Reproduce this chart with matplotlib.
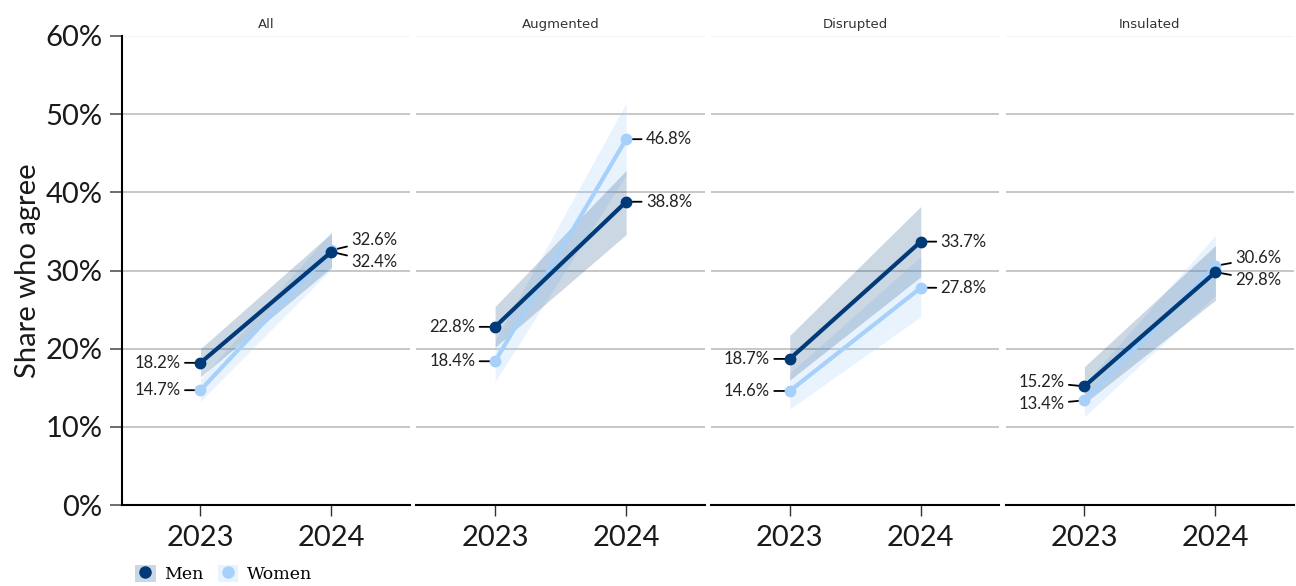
import numpy as np
import matplotlib
matplotlib.use("Agg")
import matplotlib.pyplot as plt
from matplotlib.patches import Patch
from matplotlib.lines import Line2D

# data (share who agree, %)
panels = ["All", "Augmented", "Disrupted", "Insulated"]
years = ["2023", "2024"]

men_2023 = [18.2, 22.8, 18.7, 15.2]
men_2024 = [32.4, 38.8, 33.7, 29.8]
women_2023 = [14.7, 18.4, 14.6, 13.4]
women_2024 = [32.6, 46.8, 27.8, 30.6]

# confidence bands
men_lo_2023 = [16.4, 20.2, 16.0, 13.0]
men_hi_2023 = [20.0, 25.4, 21.7, 17.7]
men_lo_2024 = [30.4, 34.6, 29.2, 26.2]
men_hi_2024 = [34.8, 42.8, 38.2, 33.2]
women_lo_2023 = [13.3, 15.8, 12.3, 11.3]
women_hi_2023 = [16.1, 21.0, 16.9, 15.5]
women_lo_2024 = [30.2, 42.2, 24.1, 26.8]
women_hi_2024 = [35.0, 51.4, 31.8, 34.5]

MEN = "#003a78"
WOMEN = "#a7d0fb"
SANS = ["Lato", "DejaVu Sans"]

plt.rcParams["font.family"] = SANS

fig, axes = plt.subplots(1, 4, figsize=(12.96, 5.86), dpi=100, sharey=True)
fig.subplots_adjust(left=0.094, right=0.9985, bottom=0.138, top=0.9386, wspace=0.022)

x = np.arange(len(years))


def spread(a, b, gap=2.8):
    # push two label positions apart if they collide
    if abs(a - b) >= gap:
        return a, b
    mid = (a + b) / 2
    if a >= b:
        return mid + gap / 2, mid - gap / 2
    return mid - gap / 2, mid + gap / 2


for i, ax in enumerate(axes):
    m = [men_2023[i], men_2024[i]]
    w = [women_2023[i], women_2024[i]]
    ax.fill_between(x, [women_lo_2023[i], women_lo_2024[i]], [women_hi_2023[i], women_hi_2024[i]],
                    color=WOMEN, alpha=0.25, lw=0, zorder=1)
    ax.fill_between(x, [men_lo_2023[i], men_lo_2024[i]], [men_hi_2023[i], men_hi_2024[i]],
                    color=MEN, alpha=0.2, lw=0, zorder=1)
    ax.plot(x, w, color=WOMEN, lw=3, marker="o", ms=7.5, zorder=3, solid_capstyle="round")
    ax.plot(x, m, color=MEN, lw=3, marker="o", ms=7.5, zorder=4, solid_capstyle="round")

    # value labels
    for j, side in enumerate([-1, 1]):
        ym, yw = spread(m[j], w[j])
        for val, ly in [(m[j], ym), (w[j], yw)]:
            ax.annotate(f"{val:.1f}%", xy=(x[j], val), xytext=(x[j] + side * 0.15, ly),
                        textcoords="data", ha="right" if side < 0 else "left", va="center",
                        fontsize=12, color="#222222",
                        arrowprops=dict(arrowstyle="-", color="black", lw=1.3,
                                        shrinkA=1, shrinkB=0),
                        zorder=2)

    ax.set_title(panels[i], fontsize=9.5, color="#333333", pad=6,
                 family=["Liberation Sans Narrow", "DejaVu Sans"])
    ax.set_xlim(-0.6, 1.6)
    ax.set_ylim(0, 60)
    ax.set_xticks(x)
    ax.set_xticklabels(years)
    ax.set_yticks(np.arange(0, 61, 10))
    ax.set_yticklabels([f"{v}%" for v in range(0, 61, 10)])
    ax.tick_params(axis="x", labelsize=21, length=8, width=1, color="#333333",
                   labelcolor="#1a1a1a", pad=6)
    ax.tick_params(axis="y", labelsize=21, length=9, width=1.2, color="#555555",
                   labelcolor="#1a1a1a", pad=5)
    ax.yaxis.grid(True, color="#bdbdbd", lw=1.2)
    ax.set_axisbelow(True)
    ax.yaxis.get_gridlines()[-1].set_color("#f2f2f2")
    for s in ["top", "right"]:
        ax.spines[s].set_visible(False)
    ax.spines["bottom"].set_linewidth(1.5)
    ax.spines["bottom"].set_color("black")
    if i == 0:
        ax.spines["left"].set_linewidth(1.5)
        ax.spines["left"].set_color("black")
        ax.set_ylabel("Share who agree", fontsize=21, labelpad=3, color="#1a1a1a")
    else:
        ax.spines["left"].set_visible(False)
        ax.tick_params(axis="y", length=0, labelleft=False)

handles = [
    (Patch(facecolor=MEN, alpha=0.2, lw=0), Line2D([], [], color=MEN, marker="o", ms=8, lw=0)),
    (Patch(facecolor=WOMEN, alpha=0.25, lw=0), Line2D([], [], color=WOMEN, marker="o", ms=8, lw=0)),
]
fig.legend(handles, ["Men", "Women"], loc="lower left", bbox_to_anchor=(0.092, -0.022),
           ncol=2, frameon=False, handlelength=1.2, handleheight=1.2, handletextpad=0.5,
           columnspacing=0.8, prop={"family": "DejaVu Serif", "size": 12.5})

fig.savefig("out.png", dpi=100)
